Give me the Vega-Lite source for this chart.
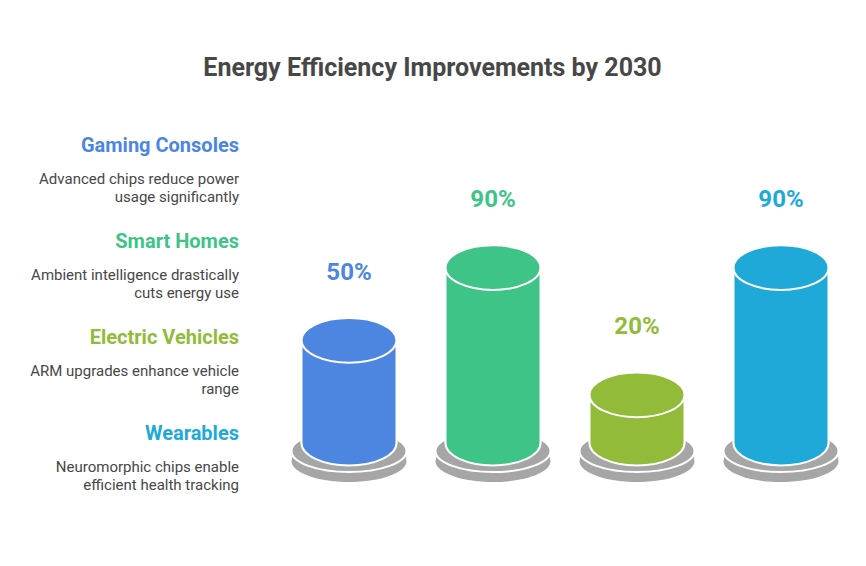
{
  "$schema": "https://vega.github.io/schema/vega-lite/v6.json",
  "padding": {"top": 56, "left": 0, "right": 13, "bottom": 58},
  "background": "white",
  "title": {"text": "Energy Efficiency Improvements by 2030", "font": "Roboto", "fontSize": 25, "fontWeight": "bold", "color": "#474747", "anchor": "middle", "offset": 23, "dx": 6},
  "config": {"view": {"stroke": null}, "font": "Roboto"},
  "data": {"values": [
    {"category": "Gaming Consoles", "description": "Advanced chips reduce power\nusage significantly", "value": 0.5},
    {"category": "Smart Homes", "description": "Ambient intelligence drastically\ncuts energy use", "value": 0.9},
    {"category": "Electric Vehicles", "description": "ARM upgrades enhance vehicle\nrange", "value": 0.2},
    {"category": "Wearables", "description": "Neuromorphic chips enable\nefficient health tracking", "value": 0.9}
  ]},
  "hconcat": [
    {
      "width": 239,
      "height": 400,
      "encoding": {
        "y": {"field": "category", "type": "nominal", "sort": ["Gaming Consoles", "Smart Homes", "Electric Vehicles", "Wearables"], "axis": null, "scale": {"type": "point", "padding": 0.5833}},
        "x": {"value": "width"}
      },
      "layer": [
        {
          "mark": {"type": "text", "align": "right", "baseline": "middle", "fontSize": 20, "fontWeight": "bold", "font": "Roboto", "dy": -14},
          "encoding": {
            "text": {"field": "category"},
            "color": {"field": "category", "type": "nominal", "legend": null, "scale": {"domain": ["Gaming Consoles", "Smart Homes", "Electric Vehicles", "Wearables"], "range": ["#4C86E0", "#3EC486", "#92BB3A", "#1FA9D9"]}}
          }
        },
        {
          "mark": {"type": "text", "align": "right", "baseline": "middle", "fontSize": 15, "font": "Roboto", "lineBreak": "\n", "lineHeight": 18, "color": "#474747", "dy": 19},
          "encoding": {"text": {"field": "description"}}
        }
      ]
    },
    {
      "width": 576,
      "height": 400,
      "encoding": {
        "x": {"field": "category", "type": "nominal", "sort": ["Gaming Consoles", "Smart Homes", "Electric Vehicles", "Wearables"], "axis": null, "scale": {"type": "band", "paddingInner": 0, "paddingOuter": 0}},
        "color": {"field": "category", "type": "nominal", "legend": null, "scale": {"domain": ["Gaming Consoles", "Smart Homes", "Electric Vehicles", "Wearables"], "range": ["#4C86E0", "#3EC486", "#92BB3A", "#1FA9D9"]}}
      },
      "layer": [
        {
          "mark": {"type": "point", "shape": "M-1,0C-1,-0.2016,-0.5523,-0.365,0,-0.365C0.5523,-0.365,1,-0.2016,1,0C1,0.2016,0.5523,0.365,0,0.365C-0.5523,0.365,-1,0.2016,-1,0Z", "size": 13225, "filled": true, "opacity": 1, "strokeWidth": 0, "yOffset": 18},
          "encoding": {"y": {"datum": -0.065, "type": "quantitative", "axis": null, "scale": {"domain": [-0.36, 1.8]}}, "color": {"value": "#A6A6A6"}}
        },
        {
          "mark": {"type": "point", "shape": "M-1,0C-1,-0.2016,-0.5523,-0.365,0,-0.365C0.5523,-0.365,1,-0.2016,1,0C1,0.2016,0.5523,0.365,0,0.365C-0.5523,0.365,-1,0.2016,-1,0Z", "size": 13225, "filled": true, "opacity": 1, "stroke": "white", "strokeWidth": 2, "yOffset": 8},
          "encoding": {"y": {"datum": -0.065, "type": "quantitative", "axis": null}, "color": {"value": "#A6A6A6"}}
        },
        {
          "mark": {"type": "point", "shape": "M-1,0C-1,-0.2596,-0.5523,-0.47,0,-0.47C0.5523,-0.47,1,-0.2596,1,0C1,0.2596,0.5523,0.47,0,0.47C-0.5523,0.47,-1,0.2596,-1,0Z", "size": 9025, "filled": true, "opacity": 1, "stroke": "white", "strokeWidth": 2},
          "encoding": {"y": {"datum": -0.065, "type": "quantitative", "axis": null}}
        },
        {
          "mark": {"type": "bar", "width": 95, "opacity": 1},
          "encoding": {"y": {"field": "value", "type": "quantitative", "axis": null}, "y2": {"datum": -0.065}}
        },
        {
          "mark": {"type": "rule", "xOffset": -47.5, "strokeWidth": 2},
          "encoding": {"y": {"field": "value", "type": "quantitative", "axis": null}, "y2": {"datum": -0.065}, "color": {"value": "white"}}
        },
        {
          "mark": {"type": "rule", "xOffset": 47.5, "strokeWidth": 2},
          "encoding": {"y": {"field": "value", "type": "quantitative", "axis": null}, "y2": {"datum": -0.065}, "color": {"value": "white"}}
        },
        {
          "mark": {"type": "point", "shape": "M-1,0C-1,-0.2596,-0.5523,-0.47,0,-0.47C0.5523,-0.47,1,-0.2596,1,0C1,0.2596,0.5523,0.47,0,0.47C-0.5523,0.47,-1,0.2596,-1,0Z", "size": 9025, "filled": true, "opacity": 1, "stroke": "white", "strokeWidth": 2},
          "encoding": {"y": {"field": "value", "type": "quantitative", "axis": null}}
        },
        {
          "mark": {"type": "text", "baseline": "middle", "align": "center", "fontSize": 24, "fontWeight": "bold", "font": "Roboto", "dy": -67.5},
          "encoding": {"y": {"field": "value", "type": "quantitative", "axis": null}, "text": {"field": "value", "format": ".0%"}}
        }
      ]
    }
  ],
  "spacing": 38
}
